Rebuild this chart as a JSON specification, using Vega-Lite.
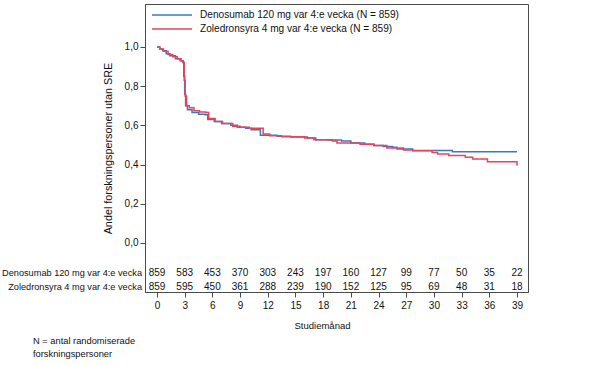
{
  "$schema": "https://vega.github.io/schema/vega-lite/v6.json",
  "autosize": "none",
  "width": 383,
  "height": 288,
  "padding": {"left": 145, "top": 4, "right": 68, "bottom": 74},
  "background": "white",
  "config": {
    "font": "Liberation Sans",
    "view": {"stroke": "#4a4a4a", "strokeWidth": 1},
    "axis": {"labelFont": "Liberation Sans", "titleFont": "Liberation Sans", "labelColor": "#111", "titleColor": "#111", "domainColor": "#4a4a4a", "tickColor": "#4a4a4a", "grid": false, "labelFontSize": 10, "titleFontSize": 9.5, "titleFontWeight": "normal", "labelOverlap": false},
    "axisX": {"values": [0, 3, 6, 9, 12, 15, 18, 21, 24, 27, 30, 33, 36, 39], "labelOverlap": false, "labelFlush": false, "labelBound": false, "tickSize": 5, "labelPadding": 3, "titlePadding": 10, "titleX": 177}
  },
  "title": {"text": ["N = antal randomiserade", "forskningspersoner"], "orient": "bottom", "anchor": "start", "frame": "group", "dx": -112, "offset": 7, "fontSize": 9.3, "fontWeight": "normal", "font": "Liberation Sans", "color": "#111", "lineHeight": 13},
  "datasets": {
    "km": [
      {"grupp": "Denosumab 120 mg var 4:e vecka (N = 859)", "manad": 0, "andel": 1.0},
      {"grupp": "Denosumab 120 mg var 4:e vecka (N = 859)", "manad": 0.3, "andel": 0.99},
      {"grupp": "Denosumab 120 mg var 4:e vecka (N = 859)", "manad": 0.6, "andel": 0.98},
      {"grupp": "Denosumab 120 mg var 4:e vecka (N = 859)", "manad": 1.0, "andel": 0.965},
      {"grupp": "Denosumab 120 mg var 4:e vecka (N = 859)", "manad": 1.4, "andel": 0.955},
      {"grupp": "Denosumab 120 mg var 4:e vecka (N = 859)", "manad": 2.0, "andel": 0.94},
      {"grupp": "Denosumab 120 mg var 4:e vecka (N = 859)", "manad": 2.5, "andel": 0.93},
      {"grupp": "Denosumab 120 mg var 4:e vecka (N = 859)", "manad": 2.8, "andel": 0.92},
      {"grupp": "Denosumab 120 mg var 4:e vecka (N = 859)", "manad": 2.9, "andel": 0.85},
      {"grupp": "Denosumab 120 mg var 4:e vecka (N = 859)", "manad": 3.0, "andel": 0.76},
      {"grupp": "Denosumab 120 mg var 4:e vecka (N = 859)", "manad": 3.1, "andel": 0.70},
      {"grupp": "Denosumab 120 mg var 4:e vecka (N = 859)", "manad": 3.3, "andel": 0.68},
      {"grupp": "Denosumab 120 mg var 4:e vecka (N = 859)", "manad": 3.8, "andel": 0.665},
      {"grupp": "Denosumab 120 mg var 4:e vecka (N = 859)", "manad": 4.5, "andel": 0.657},
      {"grupp": "Denosumab 120 mg var 4:e vecka (N = 859)", "manad": 5.2, "andel": 0.654},
      {"grupp": "Denosumab 120 mg var 4:e vecka (N = 859)", "manad": 5.5, "andel": 0.63},
      {"grupp": "Denosumab 120 mg var 4:e vecka (N = 859)", "manad": 6.2, "andel": 0.62},
      {"grupp": "Denosumab 120 mg var 4:e vecka (N = 859)", "manad": 7.0, "andel": 0.61},
      {"grupp": "Denosumab 120 mg var 4:e vecka (N = 859)", "manad": 8.0, "andel": 0.60},
      {"grupp": "Denosumab 120 mg var 4:e vecka (N = 859)", "manad": 8.7, "andel": 0.59},
      {"grupp": "Denosumab 120 mg var 4:e vecka (N = 859)", "manad": 9.6, "andel": 0.585},
      {"grupp": "Denosumab 120 mg var 4:e vecka (N = 859)", "manad": 10.2, "andel": 0.578},
      {"grupp": "Denosumab 120 mg var 4:e vecka (N = 859)", "manad": 11.2, "andel": 0.55},
      {"grupp": "Denosumab 120 mg var 4:e vecka (N = 859)", "manad": 13.0, "andel": 0.545},
      {"grupp": "Denosumab 120 mg var 4:e vecka (N = 859)", "manad": 14.5, "andel": 0.54},
      {"grupp": "Denosumab 120 mg var 4:e vecka (N = 859)", "manad": 16.3, "andel": 0.535},
      {"grupp": "Denosumab 120 mg var 4:e vecka (N = 859)", "manad": 17.2, "andel": 0.527},
      {"grupp": "Denosumab 120 mg var 4:e vecka (N = 859)", "manad": 18.5, "andel": 0.525},
      {"grupp": "Denosumab 120 mg var 4:e vecka (N = 859)", "manad": 20.0, "andel": 0.52},
      {"grupp": "Denosumab 120 mg var 4:e vecka (N = 859)", "manad": 21.0, "andel": 0.51},
      {"grupp": "Denosumab 120 mg var 4:e vecka (N = 859)", "manad": 22.5, "andel": 0.503},
      {"grupp": "Denosumab 120 mg var 4:e vecka (N = 859)", "manad": 23.5, "andel": 0.497},
      {"grupp": "Denosumab 120 mg var 4:e vecka (N = 859)", "manad": 24.5, "andel": 0.492},
      {"grupp": "Denosumab 120 mg var 4:e vecka (N = 859)", "manad": 25.5, "andel": 0.488},
      {"grupp": "Denosumab 120 mg var 4:e vecka (N = 859)", "manad": 26.0, "andel": 0.48},
      {"grupp": "Denosumab 120 mg var 4:e vecka (N = 859)", "manad": 27.7, "andel": 0.472},
      {"grupp": "Denosumab 120 mg var 4:e vecka (N = 859)", "manad": 32.0, "andel": 0.466},
      {"grupp": "Denosumab 120 mg var 4:e vecka (N = 859)", "manad": 39.0, "andel": 0.466},
      {"grupp": "Zoledronsyra 4 mg var 4:e vecka (N = 859)", "manad": 0, "andel": 1.0},
      {"grupp": "Zoledronsyra 4 mg var 4:e vecka (N = 859)", "manad": 0.3, "andel": 0.99},
      {"grupp": "Zoledronsyra 4 mg var 4:e vecka (N = 859)", "manad": 0.7, "andel": 0.978},
      {"grupp": "Zoledronsyra 4 mg var 4:e vecka (N = 859)", "manad": 1.2, "andel": 0.962},
      {"grupp": "Zoledronsyra 4 mg var 4:e vecka (N = 859)", "manad": 1.7, "andel": 0.95},
      {"grupp": "Zoledronsyra 4 mg var 4:e vecka (N = 859)", "manad": 2.2, "andel": 0.94},
      {"grupp": "Zoledronsyra 4 mg var 4:e vecka (N = 859)", "manad": 2.6, "andel": 0.93},
      {"grupp": "Zoledronsyra 4 mg var 4:e vecka (N = 859)", "manad": 2.85, "andel": 0.92},
      {"grupp": "Zoledronsyra 4 mg var 4:e vecka (N = 859)", "manad": 2.95, "andel": 0.83},
      {"grupp": "Zoledronsyra 4 mg var 4:e vecka (N = 859)", "manad": 3.05, "andel": 0.75},
      {"grupp": "Zoledronsyra 4 mg var 4:e vecka (N = 859)", "manad": 3.2, "andel": 0.70},
      {"grupp": "Zoledronsyra 4 mg var 4:e vecka (N = 859)", "manad": 3.5, "andel": 0.69},
      {"grupp": "Zoledronsyra 4 mg var 4:e vecka (N = 859)", "manad": 4.0, "andel": 0.675},
      {"grupp": "Zoledronsyra 4 mg var 4:e vecka (N = 859)", "manad": 4.6, "andel": 0.668},
      {"grupp": "Zoledronsyra 4 mg var 4:e vecka (N = 859)", "manad": 5.3, "andel": 0.665},
      {"grupp": "Zoledronsyra 4 mg var 4:e vecka (N = 859)", "manad": 5.6, "andel": 0.635},
      {"grupp": "Zoledronsyra 4 mg var 4:e vecka (N = 859)", "manad": 6.3, "andel": 0.62},
      {"grupp": "Zoledronsyra 4 mg var 4:e vecka (N = 859)", "manad": 7.1, "andel": 0.61},
      {"grupp": "Zoledronsyra 4 mg var 4:e vecka (N = 859)", "manad": 8.2, "andel": 0.595},
      {"grupp": "Zoledronsyra 4 mg var 4:e vecka (N = 859)", "manad": 9.0, "andel": 0.59},
      {"grupp": "Zoledronsyra 4 mg var 4:e vecka (N = 859)", "manad": 10.0, "andel": 0.585},
      {"grupp": "Zoledronsyra 4 mg var 4:e vecka (N = 859)", "manad": 11.5, "andel": 0.556},
      {"grupp": "Zoledronsyra 4 mg var 4:e vecka (N = 859)", "manad": 12.2, "andel": 0.547},
      {"grupp": "Zoledronsyra 4 mg var 4:e vecka (N = 859)", "manad": 13.5, "andel": 0.542},
      {"grupp": "Zoledronsyra 4 mg var 4:e vecka (N = 859)", "manad": 16.0, "andel": 0.535},
      {"grupp": "Zoledronsyra 4 mg var 4:e vecka (N = 859)", "manad": 17.0, "andel": 0.527},
      {"grupp": "Zoledronsyra 4 mg var 4:e vecka (N = 859)", "manad": 19.0, "andel": 0.52},
      {"grupp": "Zoledronsyra 4 mg var 4:e vecka (N = 859)", "manad": 19.5, "andel": 0.51},
      {"grupp": "Zoledronsyra 4 mg var 4:e vecka (N = 859)", "manad": 22.0, "andel": 0.503},
      {"grupp": "Zoledronsyra 4 mg var 4:e vecka (N = 859)", "manad": 23.5, "andel": 0.497},
      {"grupp": "Zoledronsyra 4 mg var 4:e vecka (N = 859)", "manad": 24.9, "andel": 0.485},
      {"grupp": "Zoledronsyra 4 mg var 4:e vecka (N = 859)", "manad": 26.7, "andel": 0.474},
      {"grupp": "Zoledronsyra 4 mg var 4:e vecka (N = 859)", "manad": 27.7, "andel": 0.471},
      {"grupp": "Zoledronsyra 4 mg var 4:e vecka (N = 859)", "manad": 29.8, "andel": 0.461},
      {"grupp": "Zoledronsyra 4 mg var 4:e vecka (N = 859)", "manad": 30.4, "andel": 0.454},
      {"grupp": "Zoledronsyra 4 mg var 4:e vecka (N = 859)", "manad": 31.6, "andel": 0.446},
      {"grupp": "Zoledronsyra 4 mg var 4:e vecka (N = 859)", "manad": 33.4, "andel": 0.437},
      {"grupp": "Zoledronsyra 4 mg var 4:e vecka (N = 859)", "manad": 34.2, "andel": 0.429},
      {"grupp": "Zoledronsyra 4 mg var 4:e vecka (N = 859)", "manad": 35.8, "andel": 0.415},
      {"grupp": "Zoledronsyra 4 mg var 4:e vecka (N = 859)", "manad": 38.9, "andel": 0.415},
      {"grupp": "Zoledronsyra 4 mg var 4:e vecka (N = 859)", "manad": 39.0, "andel": 0.394}
    ],
    "risk": [
      {"arm": "Denosumab", "manad": 0, "n": 859}, {"arm": "Denosumab", "manad": 3, "n": 583}, {"arm": "Denosumab", "manad": 6, "n": 453}, {"arm": "Denosumab", "manad": 9, "n": 370}, {"arm": "Denosumab", "manad": 12, "n": 303}, {"arm": "Denosumab", "manad": 15, "n": 243}, {"arm": "Denosumab", "manad": 18, "n": 197}, {"arm": "Denosumab", "manad": 21, "n": 160}, {"arm": "Denosumab", "manad": 24, "n": 127}, {"arm": "Denosumab", "manad": 27, "n": 99}, {"arm": "Denosumab", "manad": 30, "n": 77}, {"arm": "Denosumab", "manad": 33, "n": 50}, {"arm": "Denosumab", "manad": 36, "n": 35}, {"arm": "Denosumab", "manad": 39, "n": 22},
      {"arm": "Zoledronsyra", "manad": 0, "n": 859}, {"arm": "Zoledronsyra", "manad": 3, "n": 595}, {"arm": "Zoledronsyra", "manad": 6, "n": 450}, {"arm": "Zoledronsyra", "manad": 9, "n": 361}, {"arm": "Zoledronsyra", "manad": 12, "n": 288}, {"arm": "Zoledronsyra", "manad": 15, "n": 239}, {"arm": "Zoledronsyra", "manad": 18, "n": 190}, {"arm": "Zoledronsyra", "manad": 21, "n": 152}, {"arm": "Zoledronsyra", "manad": 24, "n": 125}, {"arm": "Zoledronsyra", "manad": 27, "n": 95}, {"arm": "Zoledronsyra", "manad": 30, "n": 69}, {"arm": "Zoledronsyra", "manad": 33, "n": 48}, {"arm": "Zoledronsyra", "manad": 36, "n": 31}, {"arm": "Zoledronsyra", "manad": 39, "n": 18}
    ],
    "etiketter": [
      {"arm": "Denosumab", "etikett": "Denosumab 120 mg var 4:e vecka"},
      {"arm": "Zoledronsyra", "etikett": "Zoledronsyra 4 mg var 4:e vecka"}
    ]
  },
  "layer": [
    {
      "data": {"name": "km"},
      "mark": {"type": "line", "interpolate": "step-after", "strokeWidth": 1.5},
      "encoding": {
        "x": {"field": "manad", "type": "quantitative", "scale": {"domain": [-1.3, 40.19], "nice": false, "zero": false},
              "axis": {"title": "Studiemånad", "values": [0, 3, 6, 9, 12, 15, 18, 21, 24, 27, 30, 33, 36, 39], "labelOverlap": false, "tickCount": 14}},
        "y": {"field": "andel", "type": "quantitative", "scale": {"domain": [-0.25, 1.219], "nice": false, "zero": false},
              "axis": {"values": [0, 0.2, 0.4, 0.6, 0.8, 1.0], "labelExpr": "replace(format(datum.value, '.1f'), '.', ',')", "title": "Andel forskningspersoner utan SRE", "titleFontSize": 10.8, "tickSize": 5, "labelPadding": 2, "titlePadding": 11}},
        "color": {"field": "grupp", "type": "nominal",
                  "scale": {"domain": ["Denosumab 120 mg var 4:e vecka (N = 859)", "Zoledronsyra 4 mg var 4:e vecka (N = 859)"], "range": ["#3a78c2", "#ea4258"]},
                  "legend": {"title": null, "orient": "none", "legendX": 21, "legendY": 5, "symbolType": "M-4,0H4", "symbolSize": 100, "symbolStrokeWidth": 1.5, "labelFontSize": 10.1, "labelFont": "Liberation Sans", "labelColor": "#111", "labelLimit": 400, "rowPadding": 2, "labelOffset": 22}}
      }
    },
    {
      "data": {"name": "risk"},
      "transform": [{"filter": "datum.arm === 'Denosumab'"}],
      "mark": {"type": "text", "fontSize": 10, "color": "#111", "baseline": "middle"},
      "encoding": {"x": {"field": "manad", "type": "quantitative", "axis": {"title": "Studiemånad", "values": [0, 3, 6, 9, 12, 15, 18, 21, 24, 27, 30, 33, 36, 39], "labelOverlap": false, "tickCount": 14}}, "y": {"datum": -0.153}, "text": {"field": "n", "type": "quantitative"}}
    },
    {
      "data": {"name": "risk"},
      "transform": [{"filter": "datum.arm === 'Zoledronsyra'"}],
      "mark": {"type": "text", "fontSize": 10, "color": "#111", "baseline": "middle"},
      "encoding": {"x": {"field": "manad", "type": "quantitative", "axis": {"title": "Studiemånad", "values": [0, 3, 6, 9, 12, 15, 18, 21, 24, 27, 30, 33, 36, 39], "labelOverlap": false, "tickCount": 14}}, "y": {"datum": -0.224}, "text": {"field": "n", "type": "quantitative"}}
    },
    {
      "data": {"name": "etiketter"},
      "transform": [{"filter": "datum.arm === 'Denosumab'"}],
      "mark": {"type": "text", "fontSize": 9.2, "color": "#111", "baseline": "middle", "align": "right", "dx": -3},
      "encoding": {"x": {"datum": -1.3, "axis": {"title": "Studiemånad", "values": [0, 3, 6, 9, 12, 15, 18, 21, 24, 27, 30, 33, 36, 39], "labelOverlap": false, "tickCount": 14}}, "y": {"datum": -0.153}, "text": {"field": "etikett"}}
    },
    {
      "data": {"name": "etiketter"},
      "transform": [{"filter": "datum.arm === 'Zoledronsyra'"}],
      "mark": {"type": "text", "fontSize": 9.2, "color": "#111", "baseline": "middle", "align": "right", "dx": -3},
      "encoding": {"x": {"datum": -1.3, "axis": {"title": "Studiemånad", "values": [0, 3, 6, 9, 12, 15, 18, 21, 24, 27, 30, 33, 36, 39], "labelOverlap": false, "tickCount": 14}}, "y": {"datum": -0.224}, "text": {"field": "etikett"}}
    }
  ]
}
